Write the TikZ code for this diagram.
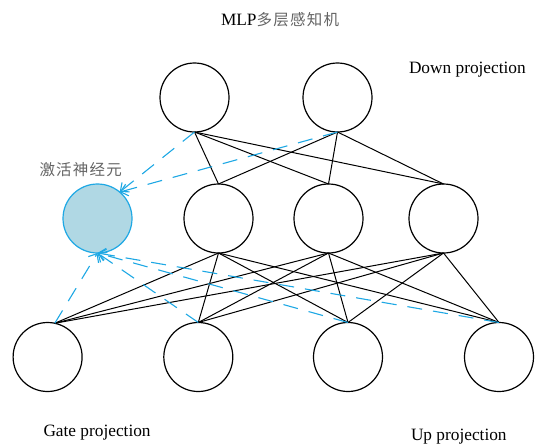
\documentclass[tikz,border=0pt]{standalone}
\usepackage{fontspec}
\setmainfont{Liberation Serif}
\newfontfamily\cjk[LetterSpace=8]{Noto Sans CJK SC}
\usetikzlibrary{arrows.meta}
\definecolor{actblue}{RGB}{30,168,228}
\definecolor{actfill}{RGB}{176,216,228}
\definecolor{cjkgray}{RGB}{100,100,100}
\tikzset{
  neuron/.style={circle, draw=black, line width=1.2pt, minimum size=69pt, inner sep=0pt, outer sep=0pt},
  actneuron/.style={circle, draw=actblue, fill=actfill, line width=1.2pt, minimum size=69pt, inner sep=0pt, outer sep=0pt},
  conn/.style={draw=black, line width=1pt},
  actconn/.style={draw=actblue, line width=1.1pt, dash pattern=on 15pt off 11pt, -{Straight Barb[length=7pt,width=12pt]}},
  lbl/.style={inner sep=0pt, outer sep=0pt, anchor=base west, font=\fontsize{17.3}{20}\selectfont},
  cjklbl/.style={inner sep=0pt, outer sep=0pt, anchor=base west, text=cjkgray, font=\fontsize{15.5}{18}\selectfont\cjk}
}
\begin{document}
\begin{tikzpicture}[x=1pt, y=-1pt]
\useasboundingbox (0,0) rectangle (545,444);
% neurons
\node[neuron] (t1) at (194.5,97.5) {};
\node[neuron] (t2) at (337.5,97.5) {};
\node[actneuron] (act) at (97.5,218.5) {};
\node[neuron] (m1) at (218.5,218.5) {};
\node[neuron] (m2) at (328.5,218.5) {};
\node[neuron] (m3) at (443.5,218.5) {};
\node[neuron] (b1) at (47.6,357) {};
\node[neuron] (b2) at (198.3,357) {};
\node[neuron] (b3) at (348,357) {};
\node[neuron] (b4) at (499,357) {};
% black connections
\foreach \t in {t1,t2}{
  \foreach \m in {m1,m2,m3}{
    \draw[conn] (\t.south) -- (\m.north);
  }
}
\foreach \m in {m1,m2,m3}{
  \draw[conn] (\m.south) -- (b1.78);
  \draw[conn] (\m.south) -- (b2.north);
  \draw[conn] (\m.south) -- (b3.north);
  \draw[conn] (\m.south) -- (b4.north);
}
% activation connections
\draw[actconn] (t1.south) -- (act.50);
\draw[actconn] (t2.south) -- (act.50);
\draw[actconn] (b1.78) -- (act.south);
\draw[actconn] (b2.north) -- (act.south);
\draw[actconn] (b3.north) -- (act.south);
\draw[actconn] (b4.north) -- (act.south);
% labels
\node[lbl] (title) at (221,26) {MLP{\color{cjkgray}\fontsize{15.5}{18}\selectfont\cjk 多层感知机}};
\node[lbl] (down) at (409,73) {Down projection};
\node[cjklbl] (actlbl) at (39.5,175) {激活神经元};
\node[lbl] (gate) at (43.5,436) {Gate projection};
\node[lbl] (up) at (411,440) {Up projection};
\end{tikzpicture}
\end{document}
